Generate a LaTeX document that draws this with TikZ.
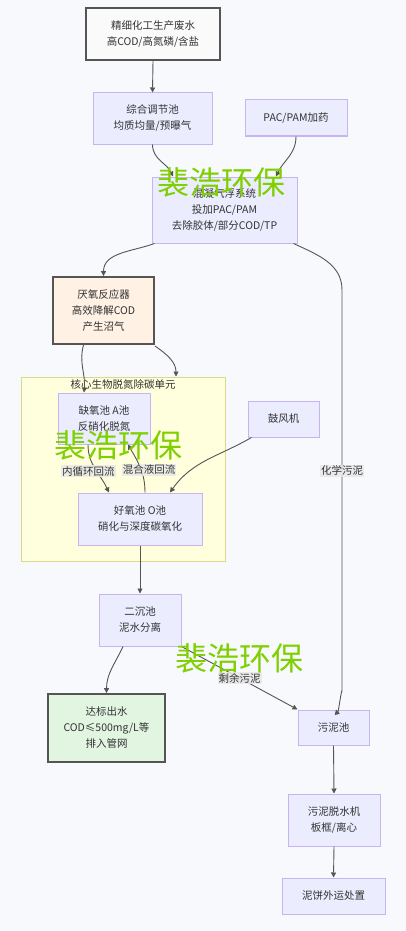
\documentclass[tikz,border=0pt]{standalone}
\usepackage{fontspec}
\setmainfont{Noto Sans CJK SC}
\usetikzlibrary{
  arrows.meta,
  positioning,
  calc,
}
\definecolor{pagebg}{HTML}{F8F9FC}
\definecolor{procfill}{HTML}{ECECFF}
\definecolor{procline}{HTML}{C7B5F3}
\definecolor{keyline}{HTML}{555555}
\definecolor{srcfill}{HTML}{FAFAFA}
\definecolor{anafill}{HTML}{FFF1E3}
\definecolor{outfill}{HTML}{E1F5E1}
\definecolor{clusterfill}{HTML}{FFFFDE}
\definecolor{clusterline}{HTML}{D8D88E}
\definecolor{linkcol}{HTML}{555555}
\definecolor{labelbg}{HTML}{E8E8E8}
\definecolor{textcol}{HTML}{333333}
\definecolor{markgreen}{HTML}{7ED000}
\tikzset{
  basenode/.style={
    rectangle, inner sep=0pt, align=center, text=textcol,
    font=\fontsize{10.5}{16}\selectfont
  },
  procnode/.style={basenode, draw=procline, fill=procfill, line width=1pt},
  keynode/.style={basenode, draw=keyline, line width=1.8pt},
  srcnode/.style={keynode, fill=srcfill},
  ananode/.style={keynode, fill=anafill},
  outnode/.style={keynode, fill=outfill},
  clusterbox/.style={
    rectangle, draw=clusterline, fill=clusterfill, line width=1pt, inner sep=0pt
  },
  flowarrow/.style={
    draw=linkcol, line width=0.9pt,
    -{Triangle[length=5pt, width=5pt]}
  },
  edgelabel/.style={
    fill=labelbg, fill opacity=0.85, text opacity=1, text=textcol,
    inner sep=1pt, font=\fontsize{10.5}{12}\selectfont
  },
  watermark/.style={
    text=markgreen, inner sep=0pt, font=\fontsize{32}{32}\selectfont
  },
}

\begin{document}
\begin{tikzpicture}[x=1pt, y=-1pt]

  % ── Page ──
  \useasboundingbox (0,0) rectangle (406,931);
  \fill[pagebg] (0,0) rectangle (406,931);

  % ── Biological unit ──
  \node[clusterbox, minimum width=204pt, minimum height=184pt] (bio) at (123,469) {};
  \node[basenode, anchor=center] (biolabel) at ($(bio.north)+(0,8)$) {核心生物脱氮除碳单元};

  % ── Pretreatment ──
  \node[srcnode, minimum width=134pt, minimum height=52pt] (src) at (153,34)
    {精细化工生产废水\\高COD/高氮磷/含盐};
  \node[procnode, minimum width=119pt, minimum height=51pt] (tiaojie) at (152.5,118.5)
    {综合调节池\\均质均量/预曝气};
  \node[procnode, minimum width=102pt, minimum height=36pt] (pac) at (296,118)
    {PAC/PAM加药};
  \node[procnode, minimum width=145pt, minimum height=66pt] (qifu) at (224.5,210)
    {混凝气浮系统\\投加PAC/PAM\\去除胶体/部分COD/TP};
  \node[ananode, minimum width=101pt, minimum height=67pt] (yanyang) at (103.5,310.5)
    {厌氧反应器\\高效降解COD\\产生沼气};

  % ── A/O ──
  \node[procnode, minimum width=92pt, minimum height=51pt] (queyang) at (104,418.5)
    {缺氧池 A池\\反硝化脱氮};
  \node[procnode, minimum width=71pt, minimum height=36pt] (gufeng) at (283.5,419)
    {鼓风机};
  \node[procnode, minimum width=124pt, minimum height=52pt] (haoyang) at (140,519)
    {好氧池 O池\\硝化与深度碳氧化};

  % ── Separation and sludge ──
  \node[procnode, minimum width=82pt, minimum height=52pt] (erchen) at (140,620)
    {二沉池\\泥水分离};
  \node[outnode, minimum width=117pt, minimum height=68pt] (dabiao) at (106.5,728)
    {达标出水\\COD≤500mg/L等\\排入管网};
  \node[procnode, minimum width=71pt, minimum height=35pt] (wunichi) at (333.5,727.5)
    {污泥池};
  \node[procnode, minimum width=92pt, minimum height=52pt] (tuoshui) at (334,820)
    {污泥脱水机\\板框/离心};
  \node[procnode, minimum width=103pt, minimum height=36pt] (nibing) at (333.5,896)
    {泥饼外运处置};

  % ── Bends of the chemical sludge line ──
  \coordinate (chemtop) at (342,290);
  \coordinate (chembot) at (342,692);

  % ── Arrows ──
  \draw[flowarrow] (src.south) -- (tiaojie.north);
  \draw[flowarrow] (tiaojie.south) to[out=-90, in=115] ($(qifu.north)+(-51.5,0)$);
  \draw[flowarrow] (pac.south) to[out=-90, in=65] ($(qifu.north)+(51.5,0)$);
  \draw[flowarrow] ($(qifu.south west)+(3,0)$) to[out=200, in=90] (yanyang.north);
  \draw[flowarrow] ($(qifu.south east)+(-4,0)$) to[out=-25, in=90] (chemtop)
    -- node[edgelabel, pos=0.45] (chemlabel) {化学污泥} (chembot)
    to[out=90, in=-75] ($(wunichi.north)+(2.5,0)$);
  \draw[flowarrow] ($(yanyang.south)+(-20,0)$) to[out=-105, in=85] ($(queyang.north)+(-20,0)$);
  \draw[flowarrow] ($(yanyang.south east)+(0,1)$) to[out=-35, in=90] ($(bio.north)+(53,0)$);
  \draw[flowarrow] ($(queyang.south)+(-16,0)$) to[out=-90, in=115]
    node[edgelabel, pos=0.5, xshift=-7pt, yshift=-2pt] (neixun) {内循环回流} ($(haoyang.north)+(-31,0)$);
  \draw[flowarrow] ($(haoyang.north)+(5,0)$) to[out=90, in=-60]
    node[edgelabel, pos=0.45, xshift=8pt] (hunhe) {混合液回流} ($(queyang.south)+(24,0)$);
  \draw[flowarrow] ($(gufeng.south west)+(4,0)$) to[out=-150, in=55] ($(haoyang.north)+(30,0)$);
  \draw[flowarrow] (haoyang.south) -- (erchen.north);
  \draw[flowarrow] ($(erchen.south)+(-17,0)$) to[out=-115, in=90] (dabiao.north);
  \draw[flowarrow] (erchen.south east) --
    node[edgelabel, pos=0.5] (shengyu) {剩余污泥} (wunichi.north west);
  \draw[flowarrow] (wunichi.south) -- (tuoshui.north);
  \draw[flowarrow] (tuoshui.south) -- (nibing.north);

  % ── Watermarks ──
  \node[watermark] (mark1) at (221,182) {裴浩环保};
  \node[watermark] (mark2) at (118,445) {裴浩环保};
  \node[watermark] (mark3) at (239,658) {裴浩环保};

\end{tikzpicture}
\end{document}
